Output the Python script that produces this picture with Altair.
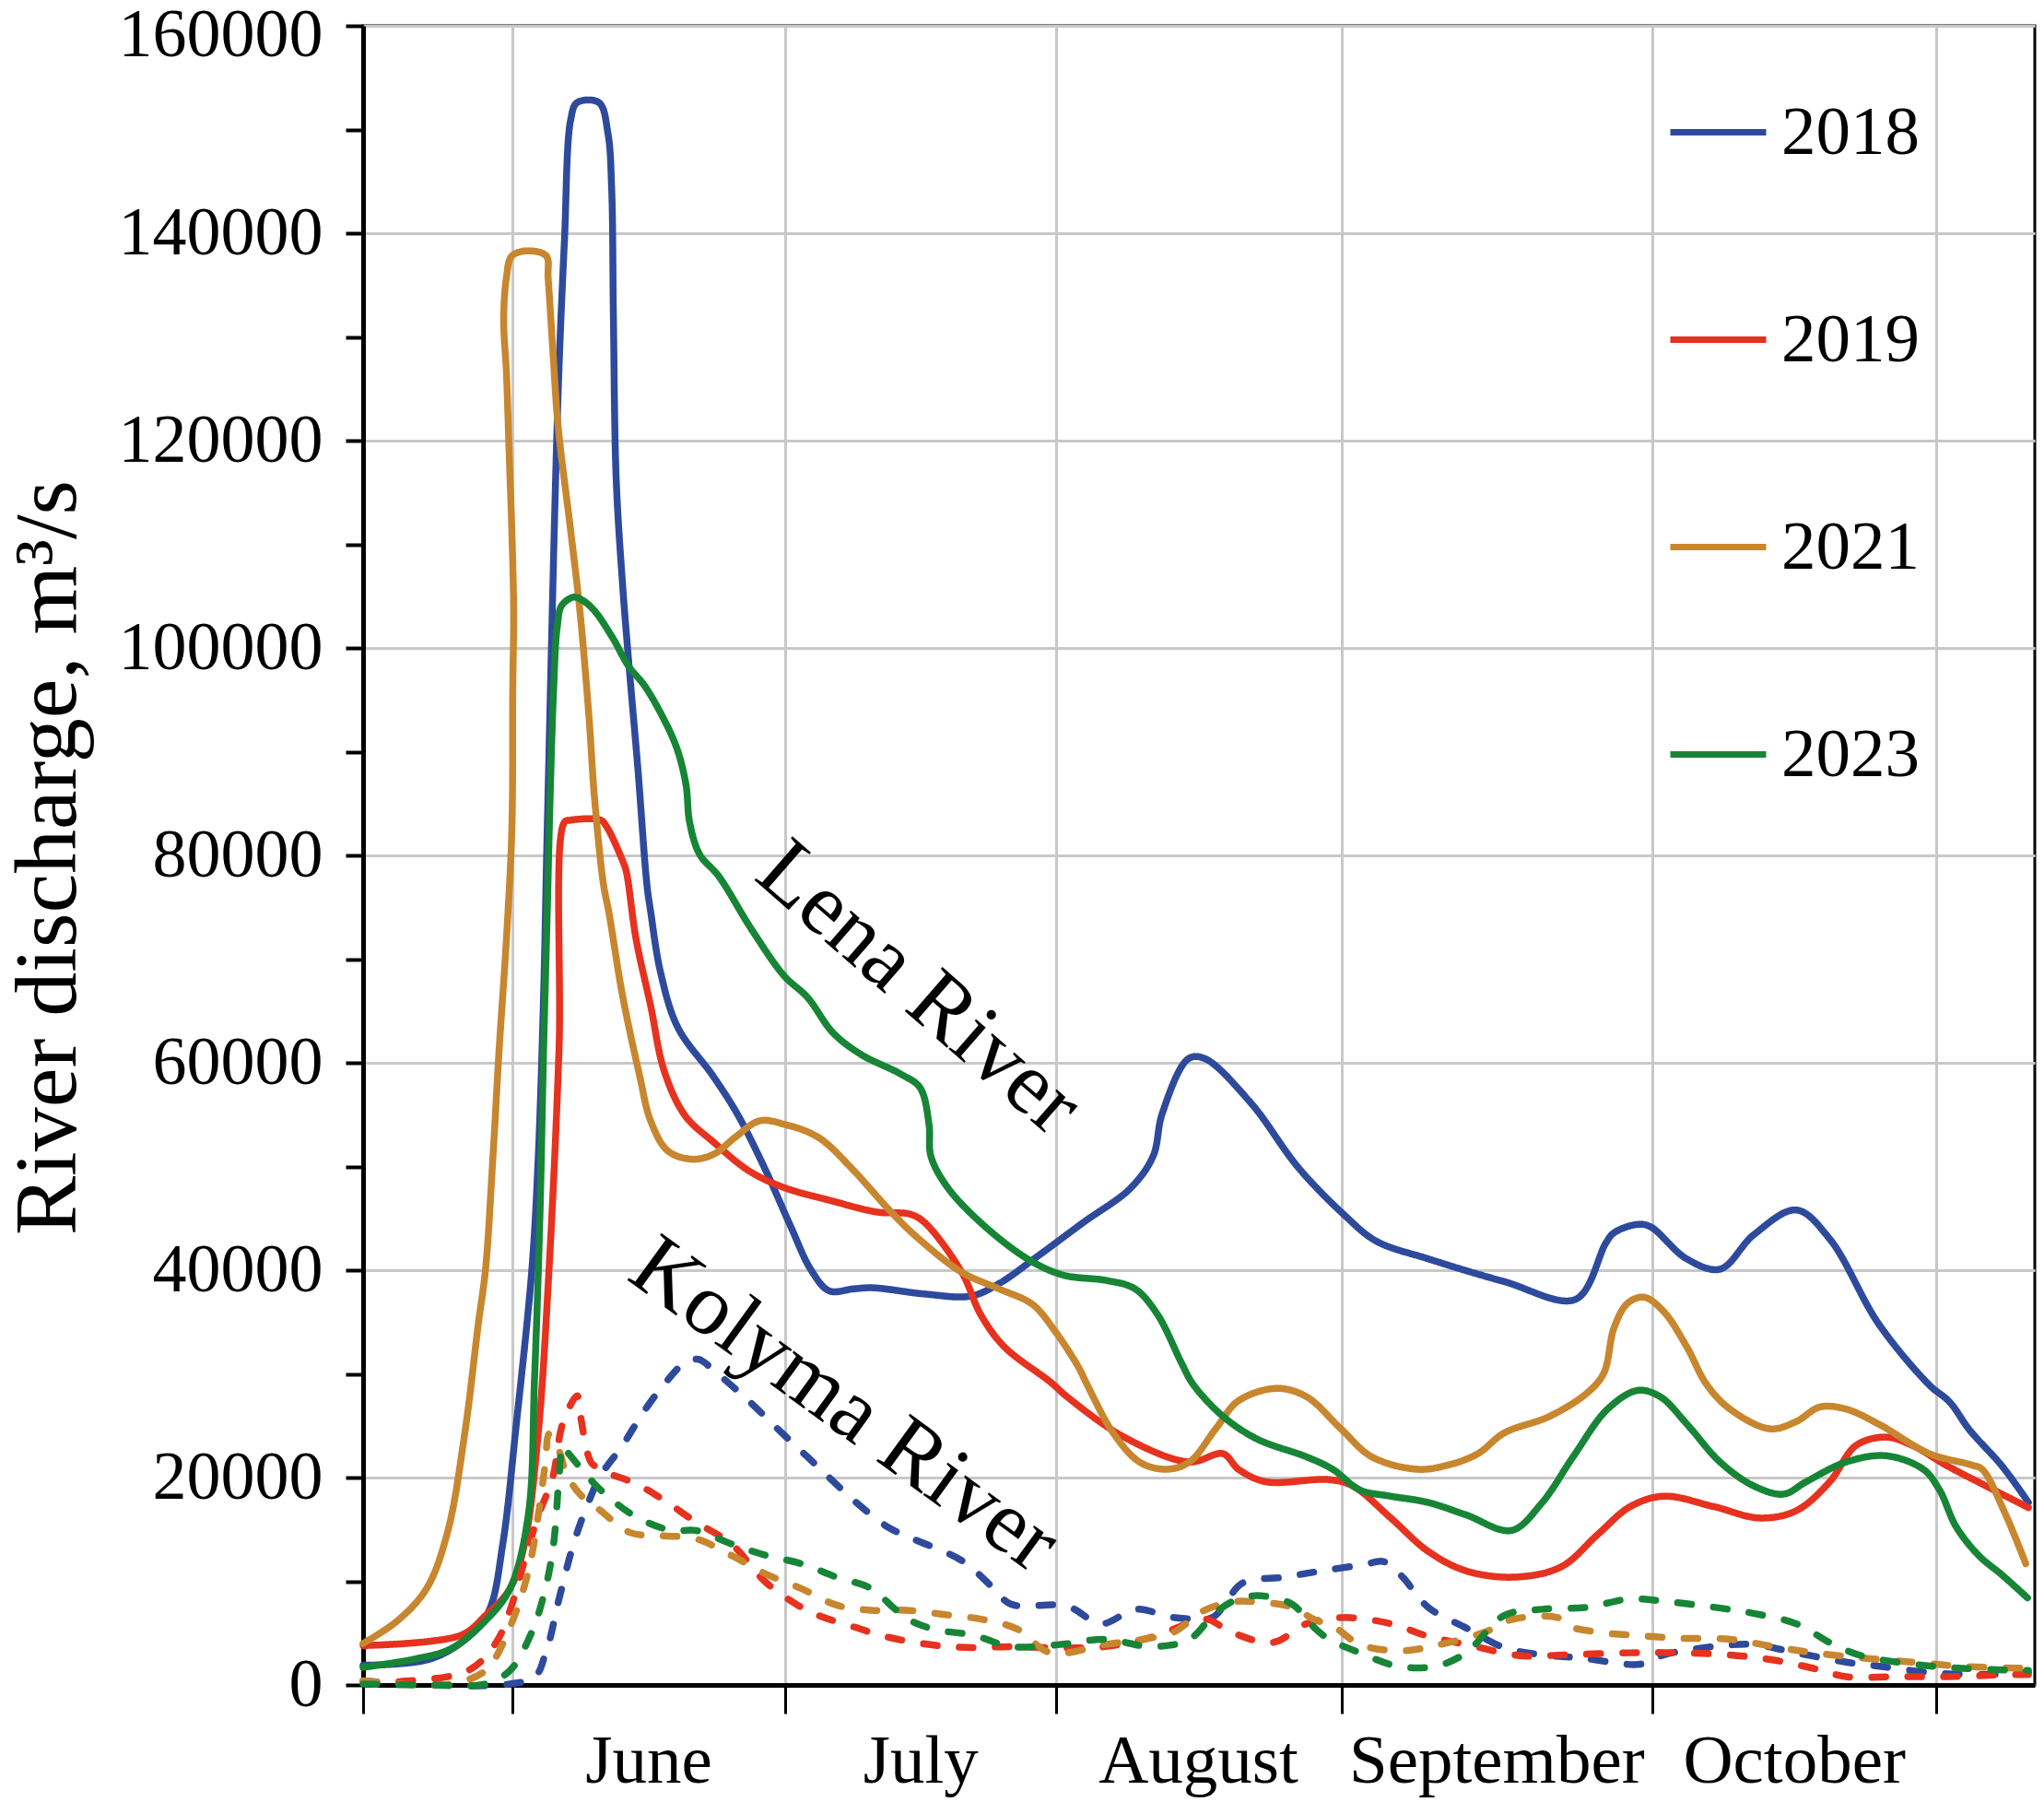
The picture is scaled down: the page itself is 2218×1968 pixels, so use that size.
import altair as alt
import pandas as pd

# ---------------- data ----------------
YEARS = ["2018", "2019", "2021", "2023"]
COLORS = ["#2D4A9C", "#E6321E", "#C8862E", "#178536"]
RIVERS = ["Lena", "Kolyma"]

# x = days counted from the left edge of the plot (mid May)
MONTH_EDGES = [0, 16.43, 46.57, 76.43, 107.86, 142.14, 173.43]
MONTHS = ["June", "July", "August", "September", "October"]
MONTH_MID = [31.5, 61.5, 92.1, 125.0, 157.8]
Y_TICKS = [0, 10000, 20000, 30000, 40000, 50000, 60000, 70000, 80000,
           90000, 100000, 110000, 120000, 130000, 140000, 150000, 160000]

LENA_2018_DAY = [0.0, 7.4, 11.7, 13.9, 15.4, 16.9, 18.6, 19.3, 19.9, 20.3, 21.5, 22.2, 22.9, 23.6, 26.0,
                 27.0, 27.4, 27.6, 27.9, 28.6, 29.3, 30.3, 31.3, 31.7, 32.8, 34.7, 38.6, 41.3, 44.4, 47.1,
                 49.4, 51.4, 54.1, 56.2, 61.9, 67.0, 70.1, 74.3, 79.4, 84.6, 87.1, 88.1, 91.0, 92.8, 97.9,
                 103.1, 108.2, 111.7, 117.4, 125.8, 133.7, 137.0, 137.9, 140.4, 141.9, 145.9, 149.6, 153.3,
                 158.0, 161.7, 167.1, 172.7, 174.9, 177.1, 180.7, 183.6]
LENA_2018_Q = [1900, 2500, 4700, 7200, 13600, 25200, 40000, 50700, 66500, 82500, 124500, 139300, 151000,
               152600, 152600, 149600, 144400, 131700, 116400, 106200, 98500, 88300, 77100, 74600, 68700,
               63400, 58700, 55000, 49600, 44300, 40000, 38000, 38200, 38300, 37700, 37500, 38700, 41300,
               44600, 47900, 51000, 55100, 60400, 60400, 56100, 49900, 45300, 42800, 41100, 38900, 37200,
               42600, 43600, 44400, 44200, 41100, 40100, 43400, 45800, 43000, 34800, 28900, 27300, 24600,
               21100, 17600]

LENA_2019_DAY = [0.0, 10.8, 13.5, 16.2, 17.8, 19.3, 20.5, 21.6, 22.2, 22.9, 26.2, 26.9, 28.6, 29.0, 30.1,
                 31.7, 33.2, 35.5, 38.7, 42.5, 46.3, 51.6, 56.7, 60.3, 61.9, 66.0, 68.1, 70.7, 75.8, 77.6,
                 83.9, 91.1, 94.8, 96.5, 99.5, 106.5, 109.1, 113.3, 117.4, 121.6, 127.0, 132.1, 136.1,
                 139.7, 143.4, 148.9, 154.0, 158.0, 161.7, 164.6, 167.9, 170.8, 174.5, 178.9, 183.6]
LENA_2019_Q = [3800, 4800, 6700, 9300, 13600, 24200, 40100, 61300, 83200, 83400, 83400, 82700, 79500,
               78500, 71900, 65500, 59200, 54900, 52300, 49600, 48000, 46700, 45600, 45400, 44600, 39800,
               35700, 32600, 29200, 27800, 23900, 21500, 22300, 20800, 19600, 19800, 19200, 16100, 12900,
               11000, 10400, 11400, 14500, 17200, 18200, 17200, 16100, 16800, 19600, 23100, 23900, 23100,
               21200, 19200, 17100]

LENA_2021_DAY = [0.0, 3.8, 7.0, 9.3, 11.2, 12.7, 13.5, 14.3, 15.0, 15.8, 16.4, 16.5, 16.6, 16.4, 16.1,
                 15.8, 15.5, 15.8, 16.4, 18.2, 20.2, 20.4, 20.9, 21.5, 22.9, 23.9, 24.9, 25.5, 26.5, 27.1,
                 28.6, 30.5, 31.7, 33.6, 36.3, 38.7, 41.0, 43.7, 46.3, 50.2, 54.1, 57.9, 60.9, 66.0, 70.1,
                 73.8, 76.3, 78.9, 79.8, 82.7, 85.6, 88.5, 91.1, 94.0, 96.5, 100.7, 104.0, 107.8, 111.2,
                 116.2, 119.6, 122.9, 125.8, 130.8, 135.0, 136.8, 137.9, 139.4, 141.2, 143.4, 146.0, 148.1,
                 150.7, 155.1, 158.0, 160.6, 163.5, 167.2, 172.7, 177.4, 178.5, 181.1, 183.3]
LENA_2021_Q = [4000, 6200, 9300, 14700, 24200, 34800, 40100, 50700, 61300, 71900, 82500, 95900, 103600,
               111200, 118900, 126600, 131600, 135700, 137800, 138300, 137800, 135700, 129000, 121400,
               111200, 103600, 93400, 85700, 77200, 74500, 66500, 58700, 54400, 51500, 50700, 51200, 52800,
               54400, 54100, 52800, 49600, 45900, 43300, 39800, 38200, 36700, 34100, 30600, 29000, 24300,
               21500, 20800, 21500, 24700, 27400, 28600, 27800, 24700, 22000, 20800, 21200, 22300, 24300,
               25900, 28200, 30100, 34400, 36800, 37400, 36000, 32500, 29000, 26600, 24700, 25400, 26800,
               26600, 25100, 22300, 21200, 20800, 16400, 11700]

LENA_2023_DAY = [0.0, 5.7, 9.7, 13.5, 16.2, 18.2, 18.9, 19.5, 19.9, 20.3, 20.6, 21.0, 21.4, 21.9, 23.2,
                 24.2, 25.5, 27.5, 29.3, 31.0, 33.0, 34.6, 35.6, 36.0, 37.1, 39.2, 42.8, 46.4, 49.0, 51.8,
                 54.9, 59.3, 61.4, 62.4, 62.6, 64.5, 69.1, 73.8, 77.3, 82.0, 85.1, 87.6, 90.2, 91.5, 94.8,
                 98.6, 104.0, 106.9, 109.9, 113.3, 117.4, 121.6, 126.6, 130.0, 133.4, 137.2, 140.5, 143.0,
                 146.0, 149.6, 153.3, 156.6, 159.1, 163.5, 167.9, 172.0, 173.8, 175.6, 178.1, 180.7, 183.5]
LENA_2023_Q = [1700, 2500, 3500, 6200, 9300, 16300, 29500, 45400, 61300, 74500, 85000, 95900, 102000,
               104100, 104900, 104600, 103600, 101000, 98200, 96400, 93400, 90300, 86800, 83200, 80100,
               78000, 72900, 68400, 66300, 62900, 60800, 58900, 57600, 54000, 51000, 47900, 43800, 40800,
               39500, 39000, 38200, 35700, 31100, 29000, 25900, 23700, 22000, 20800, 18800, 18200, 17600,
               16400, 14900, 17600, 22000, 26600, 28400, 27800, 25100, 21500, 19200, 18400, 19600, 21500,
               22100, 20800, 18800, 15300, 12500, 10600, 8400]

KOLYMA_2018_DAY = [0.0, 18.6, 20.1, 21.6, 23.2, 24.7, 26.2, 28.6, 30.9, 33.2, 35.5, 37.0, 38.7, 42.5, 46.3,
                   50.2, 54.1, 57.9, 60.6, 66.0, 69.3, 71.4, 77.6, 81.4, 85.2, 89.4, 93.6, 94.8, 96.9,
                   101.5, 105.7, 110.3, 112.5, 114.5, 117.4, 121.6, 125.8, 130.0, 134.3, 140.8, 143.4,
                   148.9, 153.3, 158.0, 163.5, 167.2, 172.7, 178.1, 183.6]
KOLYMA_2018_Q = [400, 600, 3000, 8300, 13600, 17300, 20200, 23100, 26300, 29000, 31100, 31400, 30300,
                 27400, 24200, 21000, 17800, 15200, 14100, 12000, 9500, 7800, 7600, 5900, 7300, 6500, 6500,
                 7500, 9800, 10400, 11000, 11600, 11900, 10500, 7500, 5500, 3600, 2900, 2600, 2000, 2900,
                 3700, 3900, 3100, 2200, 1800, 1200, 1000, 1200]

KOLYMA_2019_DAY = [0.0, 3.8, 11.6, 14.6, 16.2, 17.8, 19.3, 20.9, 22.0, 23.6, 23.9, 25.1, 25.8, 27.1, 30.1,
                   33.2, 36.7, 40.6, 44.4, 47.9, 50.2, 54.1, 57.9, 63.3, 67.3, 71.4, 75.6, 81.8, 87.3,
                   91.5, 93.2, 95.7, 100.3, 104.0, 108.2, 113.3, 117.4, 121.6, 127.9, 132.4, 139.7, 145.2,
                   150.7, 155.5, 159.9, 163.5, 169.0, 174.5, 181.8, 183.6]
KOLYMA_2019_Q = [200, 300, 1400, 4000, 7200, 12000, 16300, 20000, 25200, 27900, 26300, 21500, 21000,
                 20400, 19400, 17800, 15700, 13600, 9900, 7700, 6700, 5600, 4600, 3800, 3600, 3700, 3600,
                 3700, 4700, 6100, 6300, 5100, 4100, 5900, 6500, 5900, 4700, 3900, 2800, 2900, 3100, 3100,
                 2900, 2400, 1600, 800, 800, 800, 1000, 1000]

KOLYMA_2021_DAY = [0.0, 5.7, 9.7, 13.5, 16.2, 18.2, 19.3, 20.1, 20.5, 21.6, 22.4, 23.9, 26.2, 29.4, 32.8,
                   36.7, 40.6, 44.4, 48.3, 52.2, 56.0, 59.9, 64.0, 68.4, 72.1, 75.8, 81.8, 86.0, 89.4, 92.3,
                   95.7, 98.6, 102.4, 104.9, 106.9, 109.9, 114.5, 118.2, 123.7, 126.6, 131.7, 132.8, 136.1,
                   141.6, 145.2, 150.7, 155.5, 159.9, 165.3, 170.9, 176.3, 183.6]
KOLYMA_2021_Q = [400, 0, 100, 1400, 5600, 10900, 16300, 21500, 24200, 22600, 20400, 18400, 16800, 14700,
                 14400, 14100, 12500, 10700, 9300, 7700, 7200, 7200, 6800, 6300, 5400, 3100, 3900, 4400,
                 5100, 7000, 8000, 8000, 7500, 6300, 5700, 3900, 3300, 3800, 5100, 6300, 6500, 5700, 5100,
                 4700, 4500, 4400, 3700, 3100, 2600, 2200, 1800, 1600]

KOLYMA_2023_DAY = [0.0, 7.7, 13.5, 16.2, 18.6, 20.1, 21.0, 21.6, 22.0, 22.4, 23.9, 25.5, 27.1, 30.1, 34.0,
                   36.7, 40.6, 44.4, 48.3, 52.2, 56.0, 58.8, 60.6, 63.3, 67.3, 71.4, 76.8, 81.8, 86.9, 91.1,
                   94.0, 96.5, 99.0, 102.4, 104.9, 106.5, 109.9, 114.1, 118.2, 121.6, 125.8, 130.0, 135.0,
                   139.7, 144.1, 148.9, 153.3, 158.0, 162.1, 165.3, 170.9, 176.3, 183.6]
KOLYMA_2023_Q = [100, 0, 100, 1400, 5100, 9300, 13600, 20000, 23100, 22600, 21000, 19400, 18100, 16200,
                 14900, 14900, 13600, 12500, 11700, 10400, 9300, 7200, 6100, 5300, 4800, 3700, 3900, 4400,
                 3700, 4400, 7000, 8300, 8600, 7800, 5500, 4400, 3100, 1800, 1800, 3100, 6700, 7300, 7500,
                 8300, 8000, 7500, 6900, 5900, 3900, 2800, 2000, 1600, 1400]

ANNOT_TEXT = ["Lena River", "Kolyma River"]
ANNOT_DAY = [61.3, 53.1]
ANNOT_Q = [67200, 27000]

# ---------------- build table ----------------
series = [
    ("Lena", "2018", LENA_2018_DAY, LENA_2018_Q),
    ("Lena", "2019", LENA_2019_DAY, LENA_2019_Q),
    ("Lena", "2021", LENA_2021_DAY, LENA_2021_Q),
    ("Lena", "2023", LENA_2023_DAY, LENA_2023_Q),
    ("Kolyma", "2018", KOLYMA_2018_DAY, KOLYMA_2018_Q),
    ("Kolyma", "2019", KOLYMA_2019_DAY, KOLYMA_2019_Q),
    ("Kolyma", "2021", KOLYMA_2021_DAY, KOLYMA_2021_Q),
    ("Kolyma", "2023", KOLYMA_2023_DAY, KOLYMA_2023_Q),
]
rows = []
for river, year, days, qs in series:
    for i, (d, q) in enumerate(zip(days, qs)):
        rows.append({"river": river, "year": year, "day": d, "q": q, "idx": i})
df = pd.DataFrame(rows)

FONT = "Liberation Serif"
xscale = alt.Scale(domain=[0, 184.3], nice=False, zero=False)
yscale = alt.Scale(domain=[0, 160000], nice=False)

XAXIS = alt.Axis(values=MONTH_EDGES, labels=False, title=None, tickSize=31, tickWidth=3,
                 tickColor="black", domainColor="black", domainWidth=5, grid=True,
                 gridColor="#C8C8C8", gridWidth=3)
YAXIS = alt.Axis(values=Y_TICKS,
                 labelExpr="datum.value % 20000 == 0 ? datum.value : ''",
                 labelFontSize=74, labelPadding=25, labelLimit=0,
                 labelOffset={"condition": {"test": "datum.value == 160000", "value": 10}, "value": 0},
                 tickSize=19, tickWidth=4,
                 tickColor="black", domainColor="black", domainWidth=5,
                 grid=True, gridColor="#C8C8C8", gridWidth=3,
                 gridOpacity={"condition": {"test": "datum.value % 20000 != 0", "value": 0},
                              "value": 1},
                 title="River discharge, m³/s", titleFontSize=96, titleFontWeight="normal",
                 titleX=-313, titleY=902, titleBaseline="alphabetic", titleAngle=270)

lines = alt.Chart(df).mark_line(
    strokeWidth=7.5, interpolate="catmull-rom", strokeCap="round", strokeJoin="round"
).encode(
    x=alt.X("day:Q", scale=xscale, axis=XAXIS),
    y=alt.Y("q:Q", scale=yscale, axis=YAXIS),
    color=alt.Color("year:N", scale=alt.Scale(domain=YEARS, range=COLORS),
                    legend=alt.Legend(title=None, orient="none", legendX=1415, legendY=60,
                                      direction="vertical", symbolType="stroke", symbolSize=10816,
                                      symbolStrokeWidth=7, labelFontSize=75, labelFont=FONT,
                                      labelColor="black", labelOffset=13, rowPadding=131,
                                      padding=0, labelLimit=0)),
    strokeDash=alt.StrokeDash("river:N", scale=alt.Scale(domain=RIVERS, range=[[1, 0], [15, 24]]),
                              legend=None),
    order=alt.Order("idx:Q"),
)

month_df = pd.DataFrame({"month": MONTHS, "day": MONTH_MID})
months = alt.Chart(month_df).mark_text(
    font=FONT, fontSize=75, baseline="alphabetic", align="center", color="black"
).encode(
    x=alt.X("day:Q", scale=xscale, axis=XAXIS),
    y=alt.value(1906),
    text="month:N",
)

ann_df = pd.DataFrame({"label": ANNOT_TEXT, "day": ANNOT_DAY, "q": ANNOT_Q})
lena = alt.Chart(ann_df).transform_filter(alt.datum.label == "Lena River").mark_text(
    font=FONT, fontSize=96, angle=41, align="center", baseline="middle", color="black"
).encode(x=alt.X("day:Q", scale=xscale, axis=XAXIS), y=alt.Y("q:Q", scale=yscale, axis=YAXIS),
         text="label:N")
kolyma = alt.Chart(ann_df).transform_filter(alt.datum.label == "Kolyma River").mark_text(
    font=FONT, fontSize=96, angle=36, align="center", baseline="middle", color="black"
).encode(x=alt.X("day:Q", scale=xscale, axis=XAXIS), y=alt.Y("q:Q", scale=yscale, axis=YAXIS),
         text="label:N")

chart = alt.layer(lines, months, lena, kolyma).properties(
    width=1814, height=1800,
    padding={"left": 386, "top": 20, "right": 2, "bottom": 124},
    autosize=alt.AutoSizeParams(type="none"),
).configure_view(
    stroke="black", strokeWidth=3
).configure_axis(
    labelFont=FONT, titleFont=FONT, labelColor="black", titleColor="black"
)

chart.save("out.html", embed_options={"renderer": "svg", "actions": False})
